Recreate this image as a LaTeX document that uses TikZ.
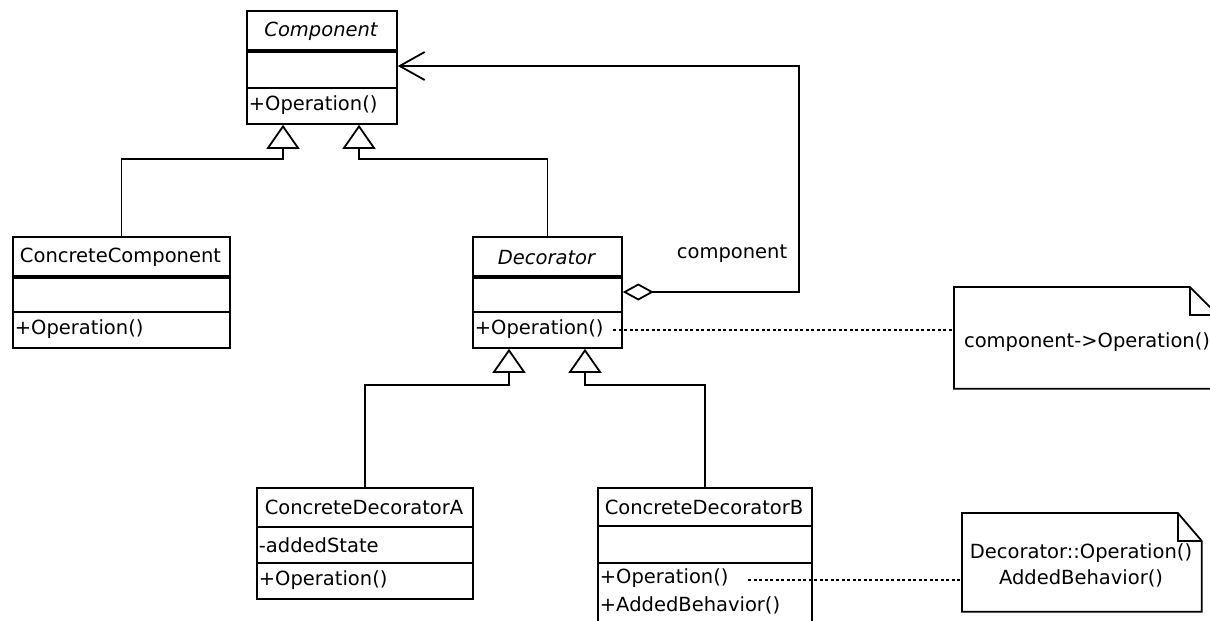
\documentclass[tikz,border=0pt]{standalone}
\usepackage{fontspec}
\setmainfont{DejaVu Sans}
\usetikzlibrary{arrows.meta,calc}
\begin{document}
\begin{tikzpicture}[x=1pt,y=-1pt, line width=1.8pt,
  umltext/.style={inner sep=0pt, font=\fontsize{19.5}{23}\selectfont},
  umlital/.style={inner sep=0pt, font=\fontsize{19.5}{23}\selectfont\itshape},
  lbl/.style={umltext, anchor=west},
  classbox/.style={draw, rectangle, inner sep=0pt, anchor=north west},
  thicksep/.style={line width=3.2pt},
  inh/.style={-{Triangle[open,length=24pt,width=33pt]}},
  agg/.style={{Diamond[open,length=31pt,width=17pt]}-{Straight Barb[length=25pt,width=28pt]}},
  notedash/.style={dash pattern=on 3pt off 2.5pt, line width=1.6pt},
  noteframe/.style={rectangle, inner sep=0pt, anchor=north west}]
\useasboundingbox (0,0) rectangle (1210,621);
\fill[white] (0,0) rectangle (1210,621);
\clip (0,0) rectangle (1210,621);

% Component
\node[classbox, minimum width=150pt, minimum height=113pt] (comp) at (246,10) {};
\node[umlital] (compT) at (321,31) {Component};
\draw[thicksep] (246,51) -- (396,51);
\draw (246,88) -- (396,88);
\node[lbl] (compO) at (248,105) {+Operation()};

% ConcreteComponent
\node[classbox, minimum width=217pt, minimum height=111pt] (cc) at (12,236) {};
\node[umltext] (ccT) at (120.5,257) {ConcreteComponent};
\draw[thicksep] (12,277) -- (229,277);
\draw (12,312) -- (229,312);
\node[lbl] (ccO) at (14,329) {+Operation()};

% Decorator
\node[classbox, minimum width=149pt, minimum height=111pt] (dec) at (472,236) {};
\node[umlital] (decT) at (546.5,258) {Decorator};
\draw[thicksep] (472,277) -- (621,277);
\draw (472,312) -- (621,312);
\node[lbl] (decO) at (474,329) {+Operation()};

% ConcreteDecoratorA
\node[classbox, minimum width=216pt, minimum height=111pt] (cda) at (256,487) {};
\node[umltext] (cdaT) at (364,507) {ConcreteDecoratorA};
\draw (256,527) -- (472,527);
\node[lbl] (cdaS) at (258,545) {-addedState};
\draw (256,563) -- (472,563);
\node[lbl] (cdaO) at (258,580) {+Operation()};

% ConcreteDecoratorB
\node[classbox, minimum width=214pt, minimum height=163pt] (cdb) at (597,487) {};
\node[umltext] (cdbT) at (704,507) {ConcreteDecoratorB};
\draw (597,526) -- (811,526);
\draw (597,563) -- (811,563);
\node[lbl] (cdbO) at (599,578) {+Operation()};
\node[lbl] (cdbB) at (599,605) {+AddedBehavior()};

% generalizations
\coordinate (compL) at ($(comp.south west)+(37,0)$);
\coordinate (compR) at ($(comp.south west)+(113,0)$);
\coordinate (decL) at ($(dec.south west)+(37,0)$);
\coordinate (decR) at ($(dec.south west)+(113,0)$);
\draw[inh] (cc.north) |- ($(compL)+(0,34)$) -- (compL);
\draw[inh] (dec.north) |- ($(compR)+(0,34)$) -- (compR);
\draw[inh] (cda.north) |- ($(decL)+(0,36)$) -- (decL);
\draw[inh] (cdb.north) |- ($(decR)+(0,36)$) -- (decR);

% aggregation
\coordinate (aggS) at ($(dec.north east)+(0,56)$);
\coordinate (aggE) at ($(comp.north east)+(0,56)$);
\draw[agg] (aggS) -- ++(176,0) |- (aggE);
\node[umltext] (aggL) at (732,254) {component};

% notes
\node[noteframe, minimum width=262pt, minimum height=100pt] (n1) at (954,287) {};
\draw (n1.north west) -- ($(n1.north east)+(-28,0)$) -- ($(n1.north east)+(0,28)$) -- (n1.south east) -- (n1.south west) -- cycle;
\draw ($(n1.north east)+(-28,0)$) -- ($(n1.north east)+(-28,28)$) -- ($(n1.north east)+(0,28)$);
\node[umltext] (n1T) at (1087,342) {component->Operation()};

\node[noteframe, minimum width=238pt, minimum height=97pt] (n2) at (962,513) {};
\draw (n2.north west) -- ($(n2.north east)+(-24,0)$) -- ($(n2.north east)+(0,28)$) -- (n2.south east) -- (n2.south west) -- cycle;
\draw ($(n2.north east)+(-24,0)$) -- ($(n2.north east)+(-24,28)$) -- ($(n2.north east)+(0,28)$);
\node[umltext, align=center, font=\fontsize{19.5}{26}\selectfont] (n2T) at (1081,565) {Decorator::Operation()\\AddedBehavior()};

% note links
\coordinate (d1) at (613,330);
\coordinate (d2) at (748,580);
\draw[notedash] (d1) -- (d1 -| n1.west);
\draw[notedash] (d2) -- (d2 -| n2.west);
\end{tikzpicture}
\end{document}
